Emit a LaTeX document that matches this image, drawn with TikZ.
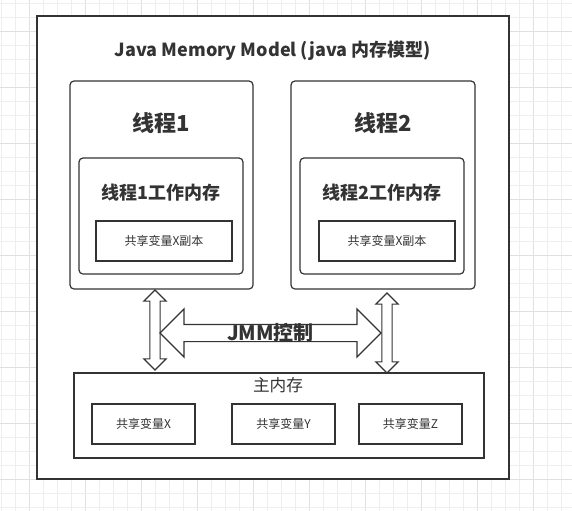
\documentclass[tikz,border=0pt]{standalone}
\usepackage{fontspec}
\setmainfont{Noto Sans CJK SC}
\usepackage{xcolor}
\usepackage{tikz}
\usetikzlibrary{shapes.arrows}

\definecolor{lineclr}{HTML}{333333}
\definecolor{gridminor}{HTML}{EEEEEE}
\definecolor{gridmajor}{HTML}{E0E0E0}

\begin{document}
\begin{tikzpicture}[x=0.75pt,y=-0.75pt,
    box/.style={rectangle, draw=lineclr, line width=0.9pt, fill=white},
    roundbox/.style={box, rounded corners=3pt},
    vbox/.style={box, minimum width=103*0.75pt, minimum height=40*0.75pt,
                 font=\fontsize{9}{10}\selectfont, text=lineclr},
    blockarrow/.style={double arrow, draw=lineclr, line width=0.9pt, fill=white,
                       inner xsep=0pt, double arrow tip angle=90}
    ]

    \useasboundingbox (0,0) rectangle (572,511);

    % canvas grid
    \foreach \i in {0,...,40} {
        \pgfmathsetmacro{\gx}{1+14*\i}
        \pgfmathtruncatemacro{\gm}{mod(\i,4)}
        \ifnum\gm=2
            \draw[gridmajor, line width=0.6pt] (\gx,0) -- (\gx,511);
        \else
            \draw[gridminor, line width=0.6pt] (\gx,0) -- (\gx,511);
        \fi
    }
    \foreach \i in {0,...,36} {
        \pgfmathsetmacro{\gy}{3.5+14*\i}
        \pgfmathtruncatemacro{\gm}{mod(\i,4)}
        \ifnum\gm=2
            \draw[gridmajor, line width=0.6pt] (0,\gy) -- (572,\gy);
        \else
            \draw[gridminor, line width=0.6pt] (0,\gy) -- (572,\gy);
        \fi
    }

    \node[box,
          line width=1.2pt,
          minimum width = 472*0.75pt,
          minimum height = 463*0.75pt
          ] (jmm) at (273,247.5) {};
    \node[text=lineclr, font=\fontsize{13.5}{15}\selectfont\bfseries] (jmmtitle) at (273,51)
        {Java Memory Model (java 内存模型)};

    %thread 1
    \node[roundbox,
          minimum width = 183*0.75pt,
          minimum height = 208*0.75pt
          ] (thr1) at (161.5,185) {};
    \node[text=lineclr, font=\fontsize{16.5}{18}\selectfont\bfseries] (thr1lbl) at (161.5,123) {线程1};

    \node[roundbox,
          minimum width = 164*0.75pt,
          minimum height = 116*0.75pt
          ] (work1) at (161,216) {};
    \node[text=lineclr, font=\fontsize{13.5}{15}\selectfont\bfseries] (work1lbl) at (161,193) {线程1工作内存};

    \node[box,
          minimum width = 136*0.75pt,
          minimum height = 40*0.75pt,
          font=\fontsize{9}{10}\selectfont, text=lineclr
          ] (copy1) at (164,241) {共享变量X副本};

    %thread 2
    \node[roundbox,
          minimum width = 184*0.75pt,
          minimum height = 208*0.75pt
          ] (thr2) at (383,185) {};
    \node[text=lineclr, font=\fontsize{16.5}{18}\selectfont\bfseries] (thr2lbl) at (383,123) {线程2};

    \node[roundbox,
          minimum width = 164*0.75pt,
          minimum height = 116*0.75pt
          ] (work2) at (382,216) {};
    \node[text=lineclr, font=\fontsize{13.5}{15}\selectfont\bfseries] (work2lbl) at (382,193) {线程2工作内存};

    \node[box,
          minimum width = 136*0.75pt,
          minimum height = 40*0.75pt,
          font=\fontsize{9}{10}\selectfont, text=lineclr
          ] (copy2) at (387,241) {共享变量X副本};

    %main memory
    \node[box,
          minimum width = 410*0.75pt,
          minimum height = 85*0.75pt
          ] (mainmem) at (279,415.5) {};
    \node[text=lineclr, font=\fontsize{12.5}{14}\selectfont] (mainlbl) at (278,385) {主内存};

    \node[vbox] (varx) at (143.5,424) {共享变量X};
    \node[vbox] (vary) at (283.5,424) {共享变量Y};
    \node[vbox] (varz) at (410.5,424) {共享变量Z};

    %jmm arrows
    \node[blockarrow,
          rotate = 90,
          inner ysep = 3.4pt,
          double arrow head extend = 4.5pt,
          minimum height = 80*0.75pt
          ] (sync1) at (155,330) {};
    \node[blockarrow,
          rotate = 90,
          inner ysep = 3.4pt,
          double arrow head extend = 4.5pt,
          minimum height = 80*0.75pt
          ] (sync2) at (387,333) {};
    \node[blockarrow,
          inner ysep = 6pt,
          double arrow head extend = 11.6pt,
          minimum height = 221*0.75pt
          ] (ctrl) at (270.5,333) {};
    \node[text=lineclr, font=\fontsize{15}{16}\selectfont\bfseries] (ctrllbl) at (ctrl.center) {JMM控制};

\end{tikzpicture}
\end{document}
